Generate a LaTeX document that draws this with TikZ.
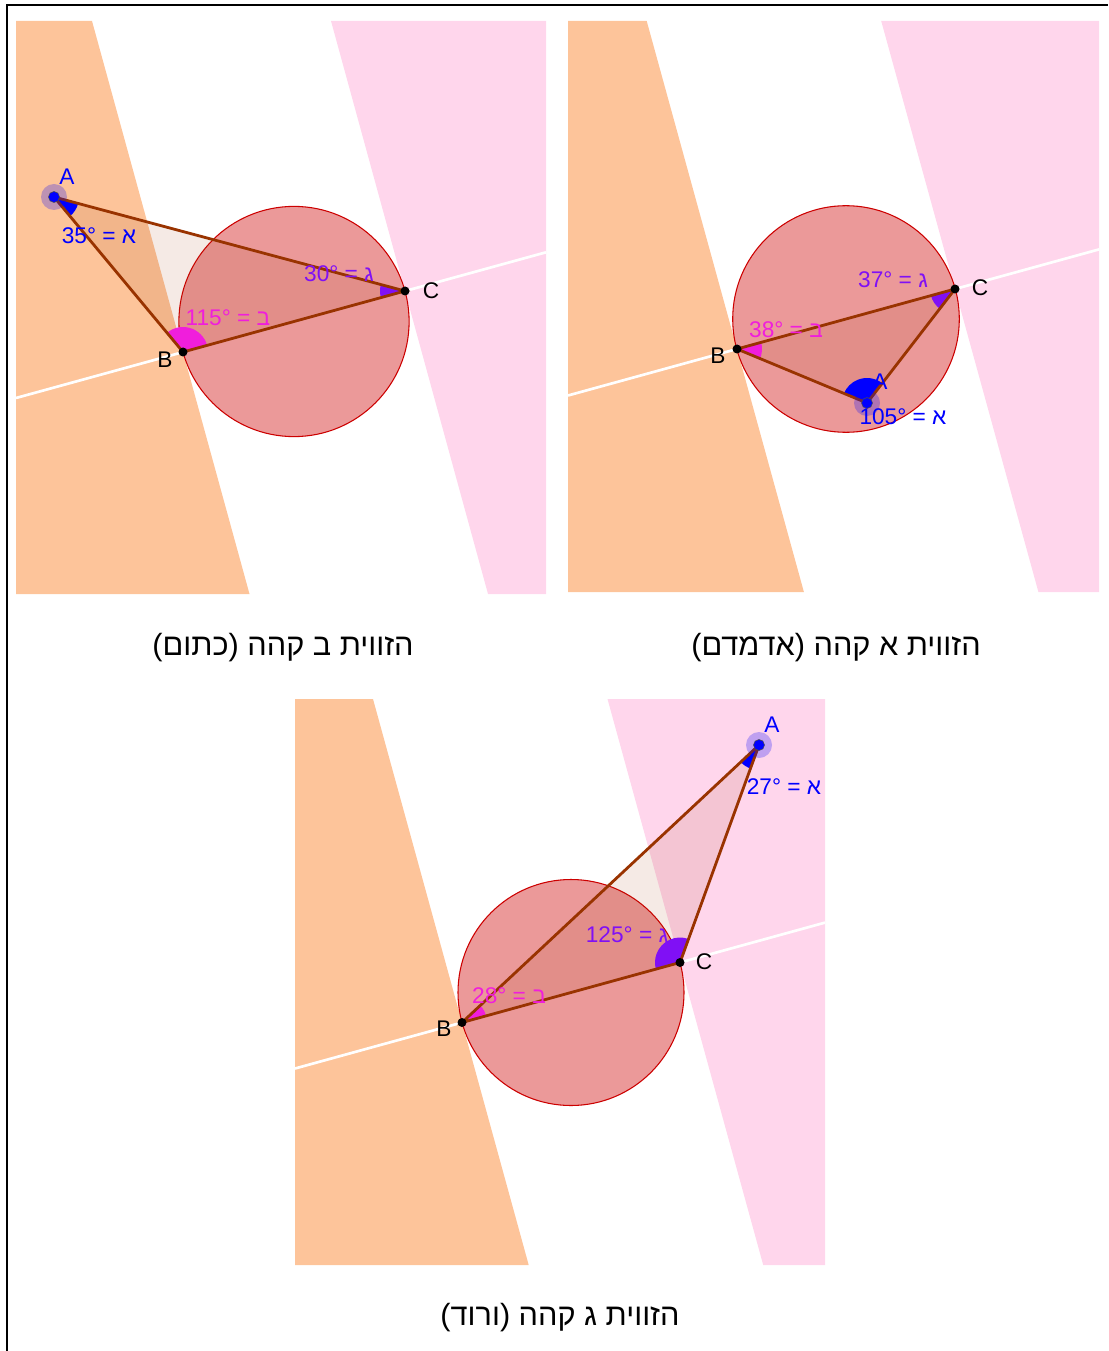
\documentclass[tikz,border=0pt]{standalone}
\usepackage{fontspec}
\setmainfont{Liberation Sans}
\newfontfamily\hebfont[Script=Hebrew]{Liberation Sans}
\TeXXeTstate=1
\usetikzlibrary{angles}
\definecolor{bandorange}{HTML}{FDC49A}
\definecolor{bandpink}{HTML}{FFD6EC}
\definecolor{circred}{HTML}{CC0000}
\definecolor{tribrown}{HTML}{993300}
\definecolor{angblue}{HTML}{0000FF}
\definecolor{angmag}{HTML}{F01EDC}
\definecolor{angpurple}{HTML}{8010F5}

\begin{document}
\begin{tikzpicture}[
    x=0.75pt, y=-0.75pt,
    every node/.style={font=\fontsize{17}{20}\selectfont, inner sep=1pt},
    frame/.style={line width=1.5pt},
    orangeband/.style={fill=bandorange},
    pinkband/.style={fill=bandpink},
    perpline/.style={white, line width=2pt},
    thales/.style={draw=circred, line width=0.8pt, fill=circred, fill opacity=0.4},
    tri/.style={fill=tribrown, fill opacity=0.1},
    side/.style={draw=tribrown, line width=2.1pt},
    angfill/.style={fill=#1, angle radius=18.75pt},
    vertex/.style={fill=black},
    freehalo/.style={fill=angblue, fill opacity=0.25},
    freept/.style={fill=angblue, draw=black!70, line width=0.4pt},
    ptname/.style={text=black},
    valA/.style={text=angblue},
    valB/.style={text=angmag},
    valC/.style={text=angpurple},
    caption/.style={font=\fontsize{23}{27}\selectfont\hebfont}
]
    \useasboundingbox (0,0) rectangle (1108,1351);
    \draw[frame] (6.5,1351) -- (6.5,5) -- (1108,5);

    % panel 1 -- obtuse at B
    \coordinate (A1) at (54,197);
    \coordinate (B1) at (183,352);
    \coordinate (C1) at (405,291);
    \fill[orangeband] (16,21) -- (92,21) -- (249.5,594) -- (16,594) -- cycle;
    \fill[pinkband] (331,21) -- (546,21) -- (546,594) -- (488,594) -- cycle;
    \draw[perpline] (16,398) -- (546,252.3);
    \path[thales] (294,321.5) circle (115.1);
    \fill[tri] (A1) -- (B1) -- (C1) -- cycle;
    \pic[angfill=angblue] {angle=B1--A1--C1};
    \pic[angfill=angmag] {angle=C1--B1--A1};
    \pic[angfill=angpurple] {angle=A1--C1--B1};
    \draw[side] (A1) -- (B1) -- (C1) -- cycle;
    \fill[freehalo] (A1) circle (13);
    \filldraw[freept] (A1) circle (5.5);
    \fill[vertex] (B1) circle (4.5);
    \fill[vertex] (C1) circle (4.5);
    \node[valA] (nA1) at (67,177) {A};
    \node[ptname] (nB1) at (165,360) {B};
    \node[ptname] (nC1) at (431,291) {C};
    \node[valA] (vA1) at (99,236) {35° = א};
    \node[valB] (vB1) at (228,318) {115° = ב};
    \node[valC] (vC1) at (339,274) {30° = ג};
    \node[caption] (cap1) at (283,648) {\beginR הזווית ב קהה (כתום)\endR};

    % panel 2 -- obtuse at A
    \coordinate (A2) at (867,403);
    \coordinate (B2) at (737,349);
    \coordinate (C2) at (955,289);
    \fill[orangeband] (568,21) -- (646.7,21) -- (803.9,592) -- (568,592) -- cycle;
    \fill[pinkband] (881.2,21) -- (1099,21) -- (1099,592) -- (1038.4,592) -- cycle;
    \draw[perpline] (568,395.5) -- (1099,249.4);
    \path[thales] (846,319) circle (113.3);
    \fill[tri] (A2) -- (B2) -- (C2) -- cycle;
    \pic[angfill=angblue] {angle=C2--A2--B2};
    \pic[angfill=angmag] {angle=A2--B2--C2};
    \pic[angfill=angpurple] {angle=B2--C2--A2};
    \draw[side] (A2) -- (B2) -- (C2) -- cycle;
    \fill[freehalo] (A2) circle (13);
    \filldraw[freept] (A2) circle (5.5);
    \fill[vertex] (B2) circle (4.5);
    \fill[vertex] (C2) circle (4.5);
    \node[valA] (nA2) at (880,382) {A};
    \node[ptname] (nB2) at (718,356) {B};
    \node[ptname] (nC2) at (980,288) {C};
    \node[valA] (vA2) at (903,417) {105° = א};
    \node[valB] (vB2) at (786,330) {38° = ב};
    \node[valC] (vC2) at (893,280) {37° = ג};
    \node[caption] (cap2) at (836,648) {\beginR הזווית א קהה (אדמדם)\endR};

    % panel 3 -- obtuse at C
    \coordinate (A3) at (759,745);
    \coordinate (B3) at (462,1022.5);
    \coordinate (C3) at (680,962.5);
    \fill[orangeband] (295,699) -- (373,699) -- (528.7,1265) -- (295,1265) -- cycle;
    \fill[pinkband] (607.5,699) -- (825,699) -- (825,1265) -- (763.2,1265) -- cycle;
    \draw[perpline] (295,1068.5) -- (825,922.6);
    \path[thales] (571,992.5) circle (113);
    \fill[tri] (A3) -- (B3) -- (C3) -- cycle;
    \pic[angfill=angblue] {angle=B3--A3--C3};
    \pic[angfill=angmag] {angle=C3--B3--A3};
    \pic[angfill=angpurple] {angle=A3--C3--B3};
    \draw[side] (A3) -- (B3) -- (C3) -- cycle;
    \fill[freehalo] (A3) circle (13);
    \filldraw[freept] (A3) circle (5.5);
    \fill[vertex] (B3) circle (4.5);
    \fill[vertex] (C3) circle (4.5);
    \node[valA] (nA3) at (772,725) {A};
    \node[ptname] (nB3) at (444,1029) {B};
    \node[ptname] (nC3) at (704,962) {C};
    \node[valA] (vA3) at (784,787) {27° = א};
    \node[valB] (vB3) at (509,996) {28° = ב};
    \node[valC] (vC3) at (627,935) {125° = ג};
    \node[caption] (cap3) at (560,1318) {\beginR הזווית ג קהה (ורוד)\endR};
\end{tikzpicture}
\end{document}
